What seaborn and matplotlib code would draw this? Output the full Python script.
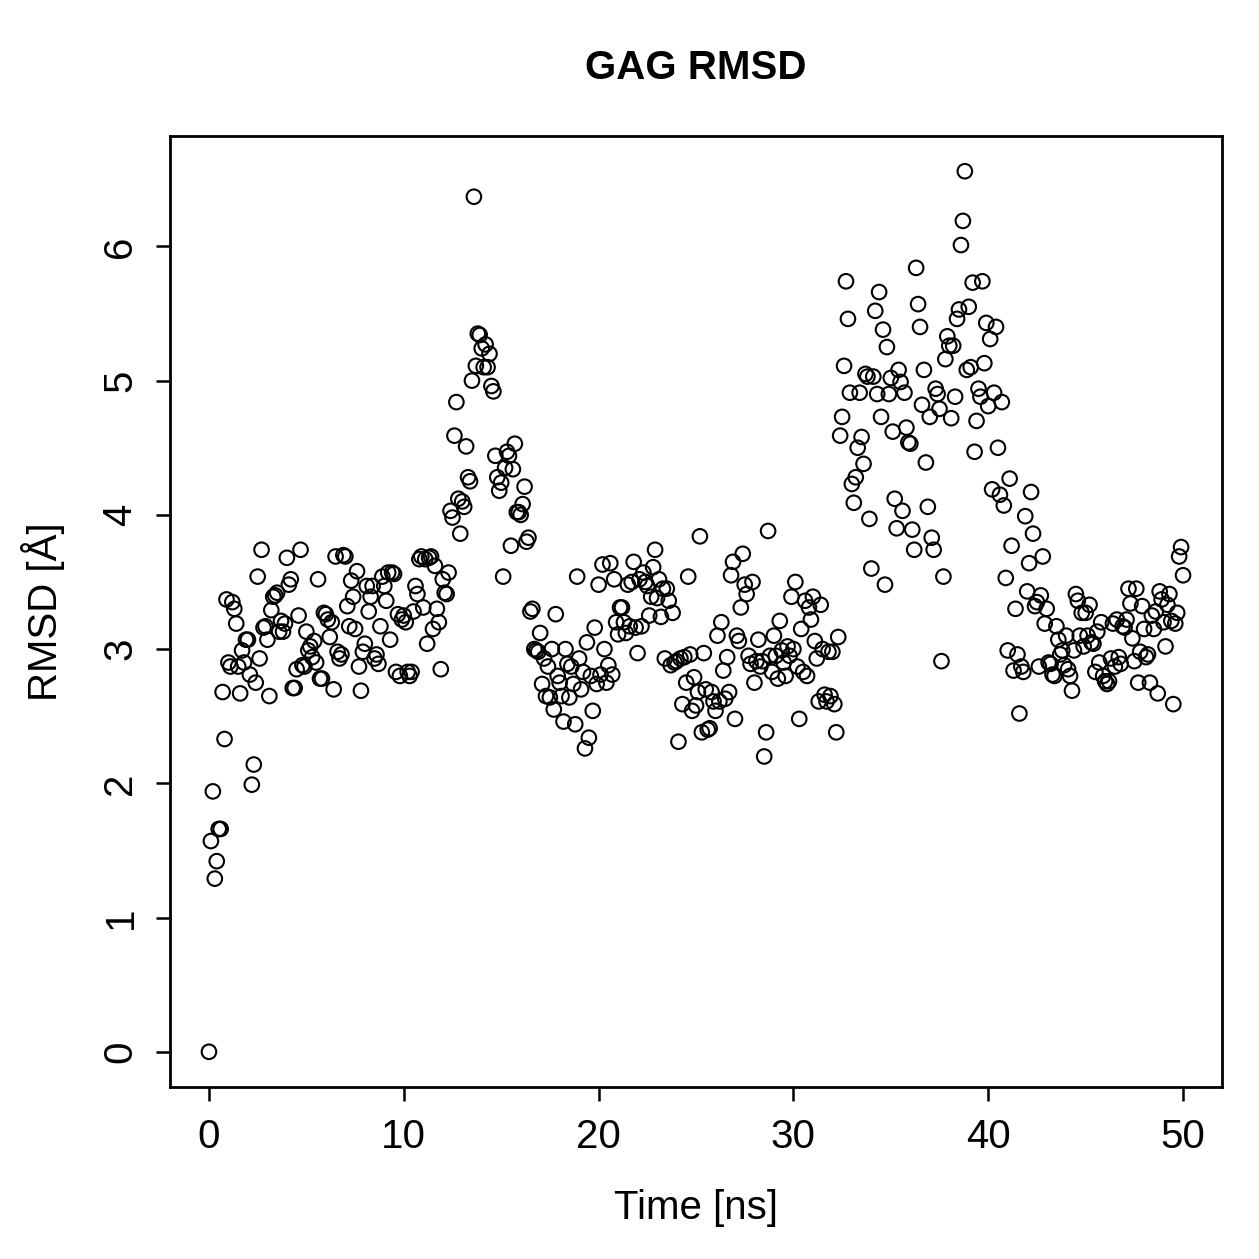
import numpy as np
import pandas as pd
import matplotlib
matplotlib.use("Agg")
import matplotlib.pyplot as plt
import seaborn as sns

# RMSD values (Å), one every 0.1 ns from 0 to 50 ns
rmsd_00_10 = [
    0.00, 1.57, 1.94, 1.29, 1.42, 1.66, 1.66, 2.68, 2.33, 3.37,
    2.90, 2.87, 3.35, 3.30, 3.19, 2.87, 2.67, 2.99, 2.90, 3.07,
    3.07, 2.81, 1.99, 2.14, 2.75, 3.54, 2.93, 3.74, 3.16, 3.17,
    3.07, 2.65, 3.29, 3.39, 3.40, 3.42, 3.13, 3.21, 3.13, 3.19,
    3.68, 3.48, 3.52, 2.71, 2.71, 2.85, 3.25, 3.74, 2.88, 2.87,
    3.13, 2.99, 3.02, 2.94, 3.06, 2.90, 3.52, 2.78, 2.78, 3.27,
    3.26, 3.22, 3.09, 3.20, 2.70, 3.69, 2.98, 2.93, 2.96, 3.70,
    3.69, 3.32, 3.17, 3.51, 3.39, 3.15, 3.58, 2.87, 2.69, 2.98,
    3.04, 3.47, 3.28, 3.39, 3.47, 2.93, 2.96, 2.89, 3.17, 3.54,
    3.47, 3.36, 3.57, 3.07, 3.57, 3.56, 2.83, 3.26, 2.80, 3.22,
]
rmsd_10_20 = [
    3.25, 3.20, 2.83, 2.80, 2.83, 3.28, 3.47, 3.41, 3.67, 3.69,
    3.31, 3.67, 3.04, 3.68, 3.69, 3.15, 3.62, 3.30, 3.20, 2.85,
    3.52, 3.42, 3.41, 3.57, 4.03, 3.98, 4.59, 4.84, 4.12, 3.86,
    4.10, 4.06, 4.51, 4.28, 4.25, 5.00, 6.37, 5.11, 5.35, 5.34,
    5.24, 5.10, 5.27, 5.10, 5.20, 4.96, 4.92, 4.44, 4.28, 4.18,
    4.24, 3.54, 4.35, 4.47, 4.44, 3.77, 4.34, 4.53, 4.02, 4.02,
    4.00, 4.08, 4.21, 3.80, 3.83, 3.28, 3.30, 3.00, 2.99, 2.98,
    3.12, 2.74, 2.93, 2.65, 2.87, 2.64, 3.00, 2.55, 3.26, 2.80,
    2.75, 2.65, 2.46, 3.00, 2.89, 2.64, 2.87, 2.74, 2.44, 3.54,
    2.93, 2.70, 2.83, 2.26, 3.05, 2.34, 2.80, 2.54, 3.16, 2.74,
]
rmsd_20_30 = [
    3.48, 2.81, 3.63, 3.00, 2.75, 2.88, 3.64, 2.81, 3.52, 3.20,
    3.11, 3.31, 3.31, 3.20, 3.12, 3.48, 3.17, 3.50, 3.65, 3.16,
    2.97, 3.52, 3.17, 3.57, 3.50, 3.47, 3.25, 3.39, 3.61, 3.74,
    3.38, 3.52, 3.24, 3.45, 2.93, 3.45, 3.36, 2.88, 3.27, 2.90,
    2.91, 2.31, 2.93, 2.59, 2.94, 2.75, 3.54, 2.96, 2.54, 2.79,
    2.58, 2.68, 3.84, 2.38, 2.97, 2.70, 2.40, 2.41, 2.68, 2.61,
    2.54, 3.10, 2.61, 3.20, 2.84, 2.63, 2.94, 2.68, 3.55, 3.65,
    2.48, 3.10, 3.06, 3.31, 3.71, 3.48, 3.41, 2.95, 2.89, 3.50,
    2.75, 2.91, 3.07, 2.87, 2.91, 2.20, 2.38, 3.88, 2.95, 2.83,
    3.10, 2.95, 2.78, 3.21, 2.99, 2.90, 2.80, 3.02, 2.95, 3.39,
]
rmsd_30_40 = [
    3.00, 3.50, 2.87, 2.48, 3.15, 2.83, 3.36, 2.80, 3.31, 3.22,
    3.39, 3.06, 2.93, 2.61, 3.33, 3.00, 2.66, 2.61, 2.98, 2.65,
    2.98, 2.59, 2.38, 3.09, 4.59, 4.73, 5.11, 5.74, 5.46, 4.91,
    4.23, 4.09, 4.28, 4.50, 4.91, 4.58, 4.38, 5.05, 5.03, 3.97,
    3.60, 5.03, 5.52, 4.90, 5.66, 4.73, 5.38, 3.48, 5.25, 4.90,
    5.02, 4.62, 4.12, 3.90, 5.08, 4.99, 4.03, 4.91, 4.65, 4.54,
    4.53, 3.89, 3.74, 5.84, 5.57, 5.40, 4.82, 5.08, 4.39, 4.06,
    4.73, 3.83, 3.74, 4.94, 4.90, 4.79, 2.91, 3.54, 5.16, 5.33,
    5.26, 4.72, 5.26, 4.88, 5.46, 5.53, 6.01, 6.19, 6.56, 5.08,
    5.55, 5.10, 5.73, 4.47, 4.70, 4.94, 4.88, 5.74, 5.13, 5.43,
]
rmsd_40_50 = [
    4.81, 5.31, 4.19, 4.91, 5.40, 4.50, 4.15, 4.84, 4.07, 3.53,
    2.99, 4.27, 3.77, 2.84, 3.30, 2.96, 2.52, 2.87, 2.83, 3.99,
    3.43, 3.64, 4.17, 3.86, 3.32, 3.35, 2.87, 3.40, 3.69, 3.19,
    3.30, 2.90, 2.89, 2.81, 2.80, 3.17, 3.07, 2.96, 2.99, 2.88,
    3.10, 2.85, 2.80, 2.69, 2.99, 3.41, 3.36, 3.10, 3.27, 3.02,
    3.27, 3.10, 3.33, 3.05, 3.04, 2.83, 3.13, 2.90, 3.20, 2.80,
    2.76, 2.74, 2.76, 2.93, 3.19, 2.87, 3.22, 2.94, 2.89, 3.17,
    3.16, 3.22, 3.45, 3.34, 3.08, 2.91, 3.45, 2.75, 2.98, 3.32,
    3.15, 2.94, 2.96, 2.75, 3.25, 3.15, 3.28, 2.67, 3.43, 3.37,
    3.20, 3.02, 3.33, 3.41, 3.21, 2.59, 3.19, 3.27, 3.69, 3.76,
    3.55,
]

rmsd = rmsd_00_10 + rmsd_10_20 + rmsd_20_30 + rmsd_30_40 + rmsd_40_50
time_ns = [round(i * 0.1, 1) for i in range(len(rmsd))]

x_ticks = [0, 10, 20, 30, 40, 50]
y_ticks = [0, 1, 2, 3, 4, 5, 6]

df = pd.DataFrame({"Time": time_ns, "RMSD": rmsd})

sns.set_style("ticks")
plt.rcParams["font.family"] = ["Liberation Sans", "DejaVu Sans"]
plt.rcParams["text.color"] = "black"
plt.rcParams["axes.labelcolor"] = "black"
plt.rcParams["xtick.color"] = "black"
plt.rcParams["ytick.color"] = "black"

FS = 29

fig = plt.figure(figsize=(12.59, 12.59), dpi=100)
ax = fig.add_axes([170 / 1259, 1 - 1087 / 1259, (1222 - 170) / 1259, (1087 - 136) / 1259])

sns.scatterplot(data=df, x="Time", y="RMSD", ax=ax, marker="o", s=110,
                facecolor="none", edgecolor="black", linewidth=1.5, legend=False)

# R-style 4% axis padding
xr = max(time_ns) - min(time_ns)
yr = max(rmsd) - min(rmsd)
ax.set_xlim(min(time_ns) - 0.04 * xr, max(time_ns) + 0.04 * xr)
ax.set_ylim(min(rmsd) - 0.04 * yr, max(rmsd) + 0.04 * yr)

ax.set_xticks(x_ticks)
ax.set_yticks(y_ticks)
ax.set_xticklabels([str(v) for v in x_ticks], fontsize=FS, color="black")
ax.set_yticklabels([str(v) for v in y_ticks], fontsize=FS, rotation=90, va="center", color="black")
ax.tick_params(axis="both", direction="out", length=10, width=1.8, color="black", pad=12)

for sp in ax.spines.values():
    sp.set_visible(True)
    sp.set_linewidth(2.0)
    sp.set_color("black")

ax.set_xlabel("Time [ns]", fontsize=FS, labelpad=24, color="black")
ax.set_ylabel("RMSD [Å]", fontsize=FS, labelpad=26, color="black")
fig.text(0.5 * (170 + 1222) / 1259, 1 - 68 / 1259, "GAG RMSD", ha="center", va="center",
         fontsize=FS, fontweight="bold", color="black")

fig.savefig("out.png", dpi=100, facecolor="white")
